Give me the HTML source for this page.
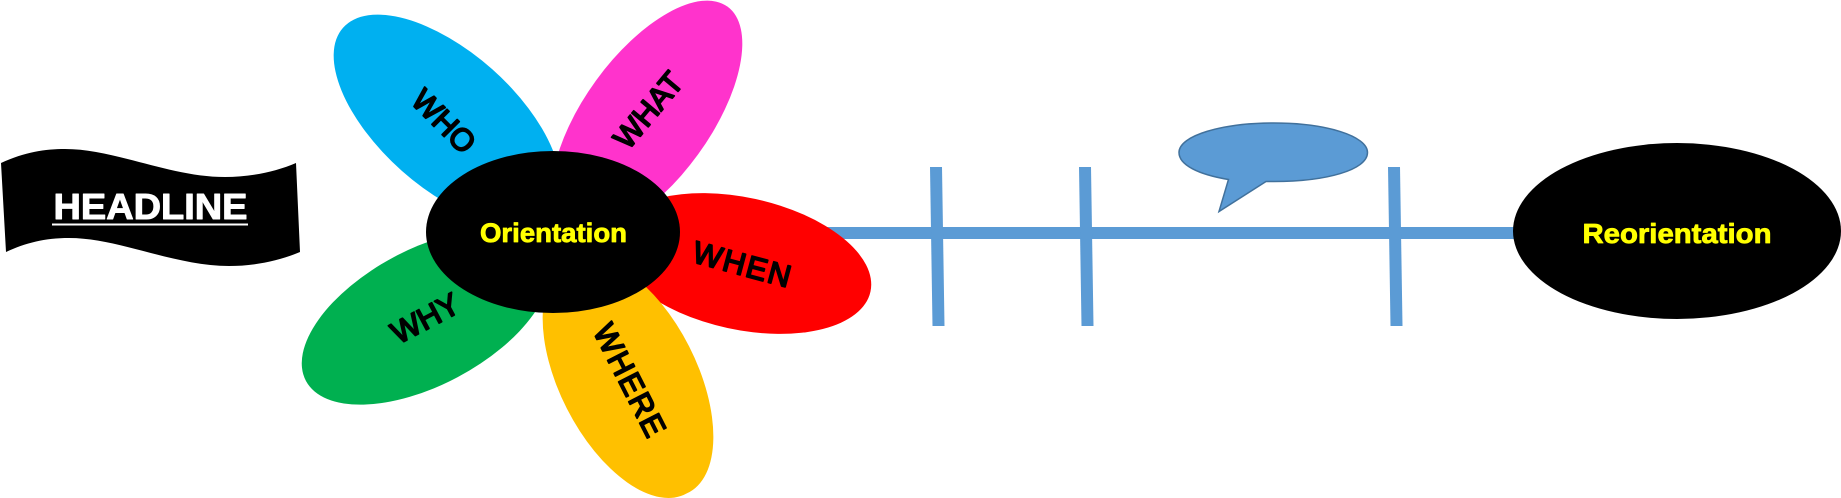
<!DOCTYPE html>
<html>
<head>
<meta charset="utf-8">
<style>
html,body{margin:0;padding:0;background:#fff;width:1841px;height:498px;overflow:hidden}
#w{position:relative;width:1841px;height:498px;overflow:hidden;contain:paint}
svg{display:block}
text{font-family:"Liberation Sans",Arial,sans-serif}
.p{font-size:31px;fill:#000;stroke:#000;stroke-width:1.800;stroke-linejoin:round;stroke-linecap:round;text-anchor:middle}
.y{font-size:27px;font-weight:bold;fill:#ff0;stroke:#ff0;stroke-width:.8;stroke-linejoin:round;text-anchor:middle}
</style>
</head>
<body>
<div id="w">
<svg width="1841" height="498" viewBox="0 0 1841 498" xmlns="http://www.w3.org/2000/svg">
<path d="M1 163C25 152 45 149 65 149C115 149 170 177 225 177C250 177 275 172 296 163L300 252C279 261 254 266 229 266C174 266 119 238 69 238C45 238 25 243 6 252Z" fill="#000"/>
<text x="150.500" y="219" font-size="36" font-weight="bold" fill="#fff" stroke="#fff" stroke-width="1" stroke-linejoin="round" text-anchor="middle" textLength="194" lengthAdjust="spacingAndGlyphs">HEADLINE</text>
<rect x="52" y="223.500" width="196" height="2" fill="#fff"/>

<rect x="750" y="227" width="765" height="12" fill="#5b9bd5"/>
<polygon points="930,167 942,167 944.500,326 932.500,326" fill="#5b9bd5"/>
<polygon points="1079,167 1091,167 1093.500,326 1081.500,326" fill="#5b9bd5"/>
<polygon points="1388,167 1400,167 1402.500,326 1390.500,326" fill="#5b9bd5"/>

<path d="M1228.500 179.500C1198.500 174.500 1179 165 1179 152.500C1179 135.500 1222 123 1274 123C1326 123 1367.500 136 1367.500 152.500C1367.500 170 1326 181.500 1274 181.500L1266 181.500L1219 211.500Z" fill="#5b9bd5" stroke="#41719c" stroke-width="1.500"/>

<ellipse cx="447" cy="120" rx="139" ry="68" transform="rotate(41.600 447 120)" fill="#00b0f0"/>
<ellipse cx="647" cy="117.500" rx="137" ry="63" transform="rotate(-54 647 117.500)" fill="#ff33cc"/>
<ellipse cx="741.500" cy="263.500" rx="132" ry="66" transform="rotate(12.300 741.500 263.500)" fill="#ff0000"/>
<ellipse cx="426" cy="317" rx="136" ry="68" transform="rotate(-28 426 317)" fill="#00b050"/>
<path d="M569 261.700A130 67 63 1 1 687 493.300A130 67 63 1 1 569 261.700Z" fill="#ffc000"/>

<text class="p" transform="translate(444 121) rotate(45)" y="11">WHO</text>
<text class="p" transform="translate(648 110) rotate(-50)" y="11">WHAT</text>
<text class="p" transform="translate(742 264) rotate(15)" y="11" textLength="100">WHEN</text>
<text class="p" transform="translate(425 318) rotate(-28)" y="11">WHY</text>
<text class="p" transform="translate(630 380) rotate(63)" y="11" textLength="122">WHERE</text>

<ellipse cx="553" cy="232" rx="127" ry="81" fill="#000"/>
<text class="y" x="553.500" y="242" textLength="147" lengthAdjust="spacingAndGlyphs">Orientation</text>

<ellipse cx="1677" cy="231" rx="164" ry="88" fill="#000"/>
<text class="y" x="1677" y="243" style="font-size:28px" textLength="189" lengthAdjust="spacingAndGlyphs">Reorientation</text>
</svg>
</div>
</body>
</html>
